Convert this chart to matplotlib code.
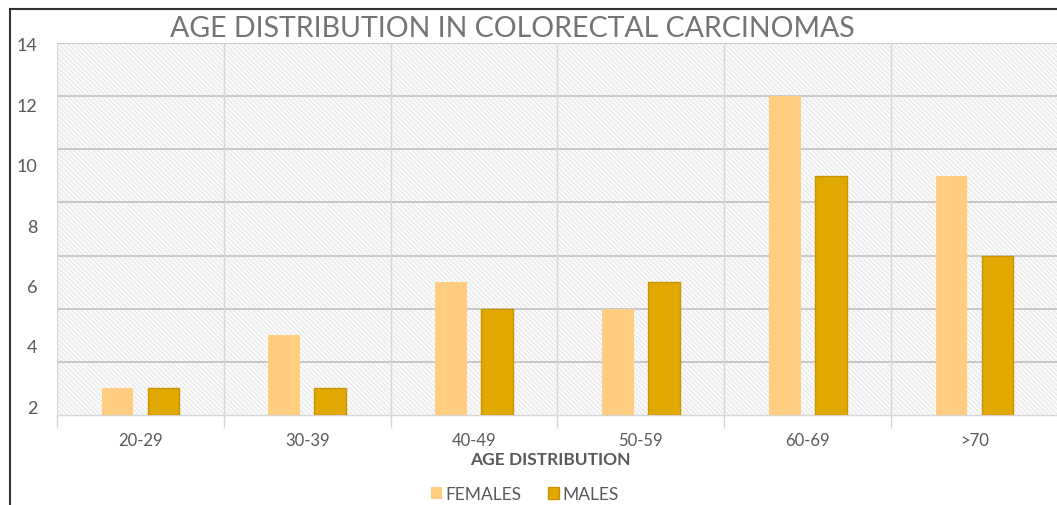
import matplotlib
matplotlib.use("Agg")
import matplotlib.pyplot as plt
import numpy as np
from matplotlib.lines import Line2D
from matplotlib.patches import Rectangle

# Data
age_groups = ["20-29", "30-39", "40-49", "50-59", "60-69", ">70"]
females = [1, 3, 5, 4, 12, 9]
males = [1, 1, 4, 5, 9, 6]
y_tick_labels = ["2", "4", "6", "8", "10", "12", "14"]

FEMALE_COLOR = "#FFCC80"
MALE_COLOR = "#E0A800"
MALE_EDGE = "#C99400"
TEXT_GREY = "#595959"
GRID_GREY = "#C4C4C4"
FONT = ["Lato", "DejaVu Sans"]

plt.rcParams["font.family"] = FONT
plt.rcParams["hatch.linewidth"] = 0.45
plt.rcParams["hatch.color"] = "#DADADA"

W, H = 1057, 506
fig = plt.figure(figsize=(W / 100, H / 100), dpi=100)

left, right, top, bottom = 57, 1058, 44, 416
ax = fig.add_axes([left / W, 1 - bottom / H, (right - left) / W, (bottom - top) / H])

# textured plot background
ax.patch.set_facecolor("white")
ax.add_patch(Rectangle((0, 0), 1, 1, transform=ax.transAxes, facecolor="#FAFAFA",
                       edgecolor="#DADADA", hatch="\\\\\\\\\\\\\\", linewidth=0, zorder=0))

x = np.arange(len(age_groups))
width = 0.19
offset = 0.138
ax.bar(x - offset, females, width, color=FEMALE_COLOR, zorder=3, label="FEMALES")
ax.bar(x + offset, males, width, color=MALE_COLOR, edgecolor=MALE_EDGE, linewidth=1.0,
       zorder=3, label="MALES")

ax.set_xlim(-0.5, len(age_groups) - 0.5)
ax.set_ylim(0, 14)

# horizontal grid
for v in range(2, 15, 2):
    ax.axhline(v, color=GRID_GREY, linewidth=1.3, zorder=1)
# vertical category separators with tick marks below
for b in np.arange(-0.5, len(age_groups), 1.0):
    ax.axvline(b, color="#D6D6D6", linewidth=1.0, zorder=1)
ax.set_xticks(np.arange(-0.5, len(age_groups), 1.0), minor=True)
ax.tick_params(axis="x", which="minor", length=9, color="#D6D6D6", width=1.0)
ax.set_xticks(x)
ax.set_xticklabels(age_groups, fontsize=12, color=TEXT_GREY)
ax.tick_params(axis="x", which="major", length=0, pad=12)
ax.set_yticks([])

for s in ["top", "right", "left"]:
    ax.spines[s].set_visible(False)
ax.spines["bottom"].set_color("#D6D6D6")
ax.spines["bottom"].set_linewidth(1.0)

ax.set_xlabel("AGE DISTRIBUTION", fontsize=12.5, fontweight="bold", color=TEXT_GREY)
ax.xaxis.set_label_coords((550 - left) / (right - left), -0.098)

# value labels on the left
ax2 = ax.twinx()
ax2.set_ylim(2 - 9 / 30.17, 14 + 1 / 30.17)
ax2.yaxis.set_ticks_position("left")
ax2.set_yticks(range(2, 15, 2))
ax2.set_yticklabels(y_tick_labels, fontsize=13, color=TEXT_GREY)
ax2.tick_params(axis="y", length=0, pad=14)
for s in ax2.spines.values():
    s.set_visible(False)

fig.text(512 / W, 1 - 29 / H, "AGE DISTRIBUTION IN COLORECTAL CARCINOMAS",
         ha="center", va="center", fontsize=20.5, color="#747474")

# legend
handles, labels = ax.get_legend_handles_labels()
fig.legend(handles, labels, loc="center", bbox_to_anchor=(525 / W, 1 - 495 / H), ncol=2,
           frameon=False, fontsize=12.5, handlelength=0.65, handleheight=0.65,
           handletextpad=0.2, columnspacing=1.5, labelcolor=TEXT_GREY)

# outer frame
fig.add_artist(Line2D([10 / W, 10 / W], [0, 1 - 10 / H], color="#333333", linewidth=1.5))
fig.add_artist(Line2D([10 / W, 1], [1 - 10 / H, 1 - 10 / H], color="#333333", linewidth=1.5))

fig.savefig("out.png", dpi=100)
